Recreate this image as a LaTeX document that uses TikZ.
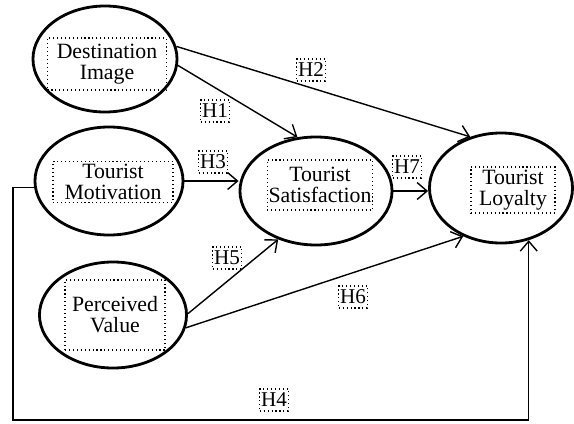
\documentclass[tikz,border=0pt]{standalone}
\usepackage{fontspec}
\setmainfont{Liberation Serif}
\usetikzlibrary{shapes.geometric,arrows.meta}

\tikzset{
    construct/.style={ellipse, draw, line width=2pt, inner sep=0pt},
    textbox/.style={draw, dotted, line width=0.8pt, align=center, inner sep=1pt,
        font=\fontsize{15.5}{15}\selectfont},
    hyp/.style={draw, dotted, line width=0.8pt, inner sep=1pt, minimum height=0.55cm,
        font=\fontsize{15}{15}\selectfont},
    link/.style={line width=1pt, -{Straight Barb[length=7pt,width=12pt]}}
}

\begin{document}
\begin{tikzpicture}[x=0.025cm,y=-0.025cm]
    \useasboundingbox (0,0) rectangle (574,423);
    \node[construct, minimum width=3.6cm, minimum height=2.65cm] (dest) at (105,59) {};
    \node[construct, minimum width=3.7cm, minimum height=2.7cm] (motiv) at (109,181) {};
    \node[construct, minimum width=3.8cm, minimum height=2.7cm] (satis) at (316,191) {};
    \node[construct, minimum width=3.575cm, minimum height=2.75cm] (loyal) at (501,188) {};
    \node[construct, minimum width=3.675cm, minimum height=2.65cm] (perc) at (113,315) {};

    \node[textbox, minimum width=2.975cm, minimum height=1.3cm] (destT) at (107,64) {Destination\\Image};
    \node[textbox, minimum width=3cm, minimum height=1.025cm] (motivT) at (113,182) {Tourist\\Motivation};
    \node[textbox, minimum width=2.6cm, minimum height=1.25cm] (satisT) at (320,185) {Tourist\\Satisfaction};
    \node[textbox, minimum width=2.1cm, minimum height=1.15cm] (loyalT) at (513,190) {Tourist\\Loyalty};
    \node[textbox, minimum width=2.5cm, minimum height=1.75cm] (percT) at (115,315) {Perceived\\Value};

    \draw[link] (dest.-5) -- (satis.109);
    \draw[link] (dest.10) -- (loyal.121);
    \draw[link] (motiv.east) -- (motiv.east -| satis.west);
    \draw[link] (satis.east) -- (satis.east -| loyal.west);
    \draw[link] (perc.1) -- (satis.232);
    \draw[link] (perc.-10) -- (loyal.232);
    \coordinate (corner) at (13,420);
    \draw[link] (motiv.185) -| (corner) -| (loyal.-62);

    \node[hyp] (h1) at (215,111) {H1};
    \node[hyp] (h2) at (311,70) {H2};
    \node[hyp] (h3) at (213,162) {H3};
    \node[hyp] (h4) at (274,400) {H4};
    \node[hyp] (h5) at (227,258) {H5};
    \node[hyp] (h6) at (353,297) {H6};
    \node[hyp] (h7) at (407,167) {H7};
\end{tikzpicture}
\end{document}
